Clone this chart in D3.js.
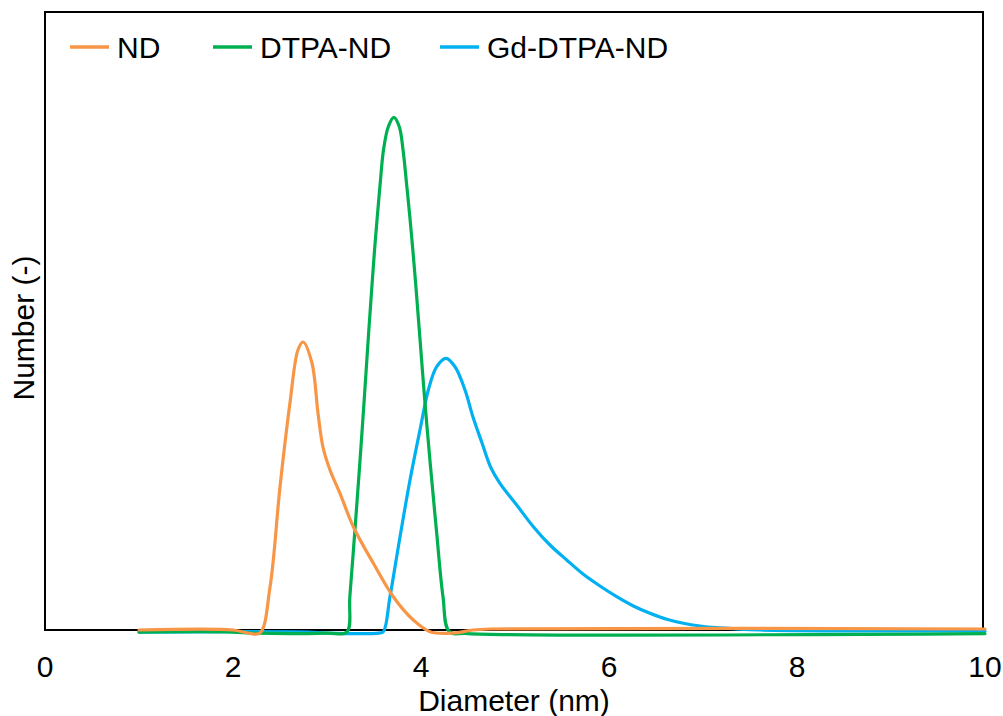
<!DOCTYPE html>
<html>
<head>
<meta charset="utf-8">
<script src="https://cdn.jsdelivr.net/npm/d3@7"></script>
<style>
  body { margin: 0; background: white; }
  text { font-family: "Liberation Sans", Arial, sans-serif; fill: black; }
</style>
</head>
<body>
<div id="chart"></div>
<script>
const xSize = 1003;
const ySize = 716;

// series: diameter (nm) and number
const ndX = [1.0, 2.0, 2.16, 2.287, 2.394, 2.5, 2.606, 2.691, 2.745, 2.84, 2.904, 2.957, 3.032, 3.138, 3.28, 3.493, 3.705, 3.918, 4.096, 4.34, 4.553, 4.734, 10];
const ndY = [0.039, 0.039, -0.078, -0.078, 1.713, 5.606, 8.877, 10.94, 11.252, 10.434, 8.487, 7.164, 6.268, 5.361, 4.061, 2.636, 1.335, 0.428, -0.027, -0.078, 0.039, 0.078, 0.078];

const dtpaX = [1.0, 2.0, 2.2, 3.0, 3.21, 3.243, 3.297, 3.349, 3.398, 3.445, 3.48, 3.506, 3.535, 3.566, 3.601, 3.652, 3.711, 3.769, 3.809, 3.846, 3.881, 3.913, 3.943, 3.982, 4.037, 4.098, 4.164, 4.234, 4.301, 4.5, 10];
const dtpaY = [-0.04, -0.04, -0.08, -0.08, -0.04, 1.335, 3.932, 6.529, 9.122, 11.719, 13.537, 14.834, 16.13, 17.43, 18.727, 19.634, 20.0, 19.634, 18.727, 17.43, 16.13, 14.834, 13.537, 11.719, 9.122, 6.529, 3.932, 1.335, -0.02, -0.1, -0.1];

const gdX = [1.0, 2.8, 3.0, 3.55, 3.599, 3.67, 3.777, 3.883, 3.989, 4.078, 4.167, 4.266, 4.362, 4.468, 4.553, 4.649, 4.745, 4.84, 5.018, 5.195, 5.372, 5.55, 5.727, 5.904, 6.082, 6.259, 6.436, 6.614, 6.791, 6.968, 7.146, 7.322, 7.606, 10];
const gdY = [-0.04, -0.04, -0.08, -0.08, -0.03, 1.335, 3.671, 5.879, 7.826, 9.383, 10.29, 10.617, 10.29, 9.383, 8.332, 7.32, 6.346, 5.75, 4.906, 4.061, 3.348, 2.764, 2.208, 1.752, 1.335, 0.973, 0.689, 0.456, 0.3, 0.195, 0.128, 0.09, 0.039, 0.0];

const seriesNames = ["ND", "DTPA-ND", "Gd-DTPA-ND"];
const seriesColors = ["#F79646", "#00B050", "#00B0F0"];
const xTicks = [0, 2, 4, 6, 8, 10];

const svg = d3.select("#chart").append("svg")
    .attr("width", xSize)
    .attr("height", ySize);

const xScale = d3.scaleLinear().domain([0, 10]).range([45, 985]);
const yScale = d3.scaleLinear().domain([0, 24.1]).range([631, 12]);

// frame
svg.append("rect")
    .attr("x", 45)
    .attr("y", 12)
    .attr("width", 938)
    .attr("height", 618)
    .attr("fill", "none")
    .attr("stroke", "black")
    .attr("stroke-width", 2);

// X axis labels
svg.append("g")
    .selectAll("text")
    .data(xTicks).enter()
    .append("text")
    .attr("x", d => xScale(d))
    .attr("y", 677)
    .attr("text-anchor", "middle")
    .attr("font-size", 30)
    .text(d => d);

svg.append("text")
    .attr("x", 514)
    .attr("y", 711)
    .attr("text-anchor", "middle")
    .attr("font-size", 30)
    .text("Diameter (nm)");

svg.append("text")
    .attr("transform", "translate(34,328) rotate(-90)")
    .attr("text-anchor", "middle")
    .attr("font-size", 30)
    .text("Number (-)");

// Lines
const line = d3.line()
    .x(d => xScale(d[0]))
    .y(d => yScale(d[1]))
    .curve(d3.curveCatmullRom.alpha(0.5));

const series = [
    d3.zip(ndX, ndY),
    d3.zip(dtpaX, dtpaY),
    d3.zip(gdX, gdY)
];

[2, 1, 0].forEach(i => {
    svg.append("path")
    .datum(series[i])
    .attr("d", line)
    .attr("fill", "none")
    .attr("stroke", seriesColors[i])
    .attr("stroke-width", 3.2)
    .attr("stroke-linejoin", "round")
    .attr("stroke-linecap", "round");
});

// Legend
const legendX = [70, 213, 440];
const legend = svg.append("g")
    .selectAll("g")
    .data(seriesNames).enter()
    .append("g")
    .attr("transform", (d, i) => "translate(" + legendX[i] + ",0)");

legend.append("line")
    .attr("x1", 0)
    .attr("x2", 39)
    .attr("y1", 47)
    .attr("y2", 47)
    .attr("stroke", (d, i) => seriesColors[i])
    .attr("stroke-width", 3.5);

legend.append("text")
    .attr("x", 47)
    .attr("y", 58)
    .attr("font-size", 30)
    .text(d => d);
</script>
</body>
</html>
